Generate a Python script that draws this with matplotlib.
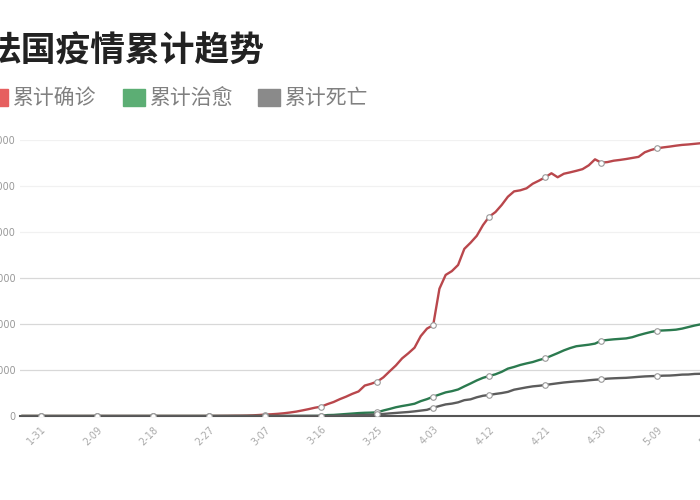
import matplotlib
matplotlib.use('Agg')
import matplotlib.pyplot as plt
import pandas as pd
from matplotlib.patches import Rectangle

plt.rcParams['font.family'] = ['Noto Sans CJK SC', 'DejaVu Sans']

# daily values from 2020-01-28 to 2020-05-18
dates = pd.date_range('2020-01-28', '2020-05-18')

confirmed_jan = [4, 4, 5, 6]
confirmed_feb = [6, 6, 6, 6, 6, 6, 6, 11, 11, 11, 11, 11, 11, 11, 12, 12, 12, 12, 12, 12,
                 12, 12, 12, 12, 14, 18, 38, 57, 100]
confirmed_mar = [130, 191, 212, 285, 423, 653, 949, 1126, 1412, 1784, 2281, 2876, 3661, 4499,
                 5423, 6100, 7730, 9134, 10995, 12612, 14459, 16018, 19856, 21000, 22400, 25233,
                 29155, 32964, 37575, 40900, 44550]
confirmed_apr = [52128, 56989, 59300, 83000, 92000, 94500, 98500, 109000, 113000, 117500,
                 124500, 130000, 133000, 137600, 143000, 146500, 147200, 148500, 151500, 153500,
                 155700, 158300, 155700, 158000, 158900, 159900, 161000, 163500, 167400, 165200]
confirmed_may = [165600, 166500, 167000, 167600, 168300, 169000, 172000, 173500, 174600, 175200,
                 175700, 176300, 176800, 177100, 177500, 177900, 178200, 178500]

recovered_jan = [0, 0, 0, 0]
recovered_feb = [0, 0, 0, 0, 0, 0, 0, 0, 0, 0, 0, 0, 0, 0, 2, 2, 2, 4, 4, 4,
                 4, 4, 4, 4, 11, 11, 11, 11, 12]
recovered_mar = [12, 12, 12, 12, 12, 12, 12, 12, 12, 12, 12, 12, 12, 12, 12, 12, 602, 700,
                 1000, 1300, 1600, 1900, 2100, 2200, 2400, 3600, 4600, 5700, 6500, 7200, 8000]
recovered_apr = [9700, 11000, 12600, 14000, 15400, 16200, 17300, 19300, 21200, 23200, 24900,
                 26100, 27200, 28800, 30900, 32000, 33300, 34300, 35200, 36500, 37600, 39300,
                 41000, 42800, 44300, 45500, 46000, 46500, 47200, 49100]
recovered_may = [49600, 50000, 50300, 50600, 51400, 52700, 53800, 54800, 55600, 55800, 56000,
                 56300, 57000, 58000, 59000, 59800, 60500, 61200]

deaths_jan = [0, 0, 0, 0]
deaths_feb = [0, 0, 0, 0, 0, 0, 0, 0, 0, 0, 0, 0, 0, 0, 1, 1, 1, 1, 1, 1,
              1, 1, 1, 1, 1, 1, 1, 2, 2]
deaths_mar = [2, 2, 3, 4, 4, 7, 9, 11, 19, 30, 33, 48, 61, 79, 91, 127, 148, 175, 264, 372,
              450, 562, 674, 860, 1100, 1331, 1696, 1995, 2314, 2606, 3024]
deaths_apr = [3523, 4032, 5400, 6507, 7560, 8078, 8911, 10328, 10869, 12210, 13197, 13700,
              14393, 14967, 15729, 17167, 17920, 18681, 19323, 19718, 20200, 20796, 21340,
              21856, 22245, 22614, 22856, 23293, 23660, 23900]
deaths_may = [24376, 24594, 24760, 24895, 25201, 25531, 25809, 25987, 26100, 26310, 26380,
              26643, 26991, 27074, 27425, 27529, 27625, 28108]

confirmed = confirmed_jan + confirmed_feb + confirmed_mar + confirmed_apr + confirmed_may
recovered = recovered_jan + recovered_feb + recovered_mar + recovered_apr + recovered_may
deaths = deaths_jan + deaths_feb + deaths_mar + deaths_apr + deaths_may

tick_labels = ['1-31', '2-09', '2-18', '2-27', '3-07', '3-16', '3-25', '4-03', '4-12',
               '4-21', '4-30', '5-09', '5-18']
y_ticks = [0, 30000, 60000, 90000, 120000, 150000, 180000]

series_names = ['累计确诊', '累计治愈', '累计死亡']
line_colors = ['#b9474c', '#2b7a4f', '#5c5c5c']
legend_colors = ['#e65f5f', '#5cae74', '#8a8a8a']

fig = plt.figure(figsize=(7, 5), dpi=100)
# the chart is cut off on the left and right like the screenshot
ax = fig.add_axes([20 / 700, 84 / 500, 720 / 700, 276 / 500])

start = pd.Timestamp('2020-01-31')
tick_dates = [start + pd.Timedelta(days=9 * i) for i in range(len(tick_labels))]

for y in y_ticks[1:]:
    ax.axhline(y, color='#d8d8d8' if y <= 90000 else '#f1f1f1', lw=0.9, zorder=0)

for vals, c in zip([confirmed, recovered, deaths], line_colors):
    ax.plot(dates, vals, color=c, lw=1.7, zorder=3,
            marker='o', markevery=(3, 9), markersize=4,
            markerfacecolor='white', markeredgecolor='#999999', markeredgewidth=0.8)

ax.set_xlim(start - pd.Timedelta(days=3.4), start + pd.Timedelta(days=112.3))
ax.set_ylim(0, 180000)
ax.set_xticks(tick_dates)
ax.set_xticklabels(tick_labels, rotation=45, ha='right', va='top',
                   rotation_mode='anchor', fontsize=7, color='#aaaaaa',
                   family='DejaVu Sans')
ax.set_yticks(y_ticks)
ax.set_yticklabels([str(v) for v in y_ticks], fontsize=7, color='#999999',
                   family='DejaVu Sans')
ax.tick_params(axis='both', length=0)
ax.tick_params(axis='x', pad=6)
ax.tick_params(axis='y', pad=3)
for s in ['top', 'right', 'left']:
    ax.spines[s].set_visible(False)
ax.spines['bottom'].set_color('#555555')
ax.spines['bottom'].set_linewidth(1.5)

fig.text(-13 / 700, 1 - 51 / 500, '法国疫情累计趋势', fontsize=25, fontweight='bold',
         color='#222222', ha='left', va='center')

legend_x = [-14, 123, 258]
for name, c, lx in zip(series_names, legend_colors, legend_x):
    fig.patches.append(Rectangle((lx / 700, 1 - 106 / 500), 22 / 700, 17 / 500,
                                 transform=fig.transFigure, color=c))
    fig.text((lx + 27) / 700, 1 - 98 / 500, name, fontsize=15, color='#808080',
             ha='left', va='center')

fig.savefig('out.png', dpi=100)
